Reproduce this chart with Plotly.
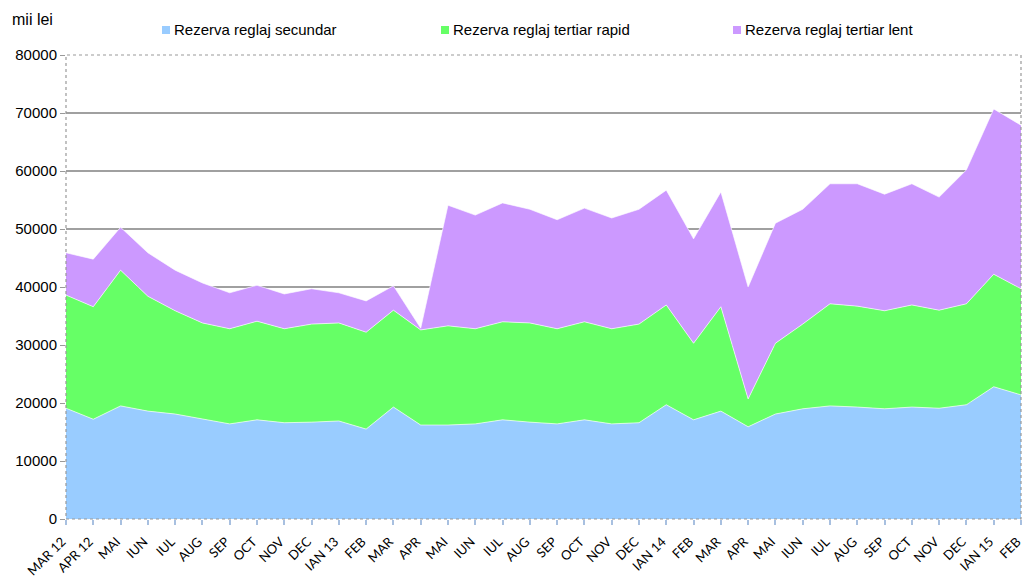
import plotly.graph_objects as go

# Month labels, March 2012 - February 2015
luni = ["MAR 12", "APR 12", "MAI", "IUN", "IUL", "AUG", "SEP", "OCT", "NOV", "DEC",
        "IAN 13", "FEB", "MAR", "APR", "MAI", "IUN", "IUL", "AUG", "SEP", "OCT", "NOV", "DEC",
        "IAN 14", "FEB", "MAR", "APR", "MAI", "IUN", "IUL", "AUG", "SEP", "OCT", "NOV", "DEC",
        "IAN 15", "FEB"]

# Values in thousand lei
rezerva_secundar = [19100, 17200, 19500, 18600, 18100, 17200, 16400, 17100, 16600, 16700,
                    16900, 15500, 19300, 16200, 16200, 16400, 17100, 16700, 16400, 17100,
                    16400, 16600, 19700, 17100, 18600, 15900, 18100, 19000, 19500, 19300,
                    19000, 19300, 19100, 19700, 22800, 21400]

rezerva_tertiar_rapid = [19500, 19400, 23400, 19800, 17800, 16600, 16400, 17000, 16200, 16900,
                         16900, 16700, 16700, 16400, 17100, 16400, 16900, 17100, 16400, 16900,
                         16400, 17000, 17200, 13200, 18000, 4800, 12200, 14600, 17600, 17400,
                         16900, 17600, 16900, 17400, 19400, 18300]

rezerva_tertiar_lent = [7300, 8200, 7400, 7500, 7000, 6900, 6200, 6200, 6000, 6100,
                        5200, 5400, 4200, 300, 20800, 19600, 20500, 19600, 18800, 19600,
                        19100, 19800, 19800, 18000, 19800, 19300, 20700, 19800, 20700, 21100,
                        20100, 20900, 19500, 23100, 28500, 28200]

serii = [
    ("Rezerva reglaj secundar", rezerva_secundar, "#99CCFF"),
    ("Rezerva reglaj tertiar rapid", rezerva_tertiar_rapid, "#66FF66"),
    ("Rezerva reglaj tertiar lent", rezerva_tertiar_lent, "#CC99FF"),
]

idx = list(range(len(luni)))

fig = go.Figure()
for nume, valori, culoare in serii:
    fig.add_trace(go.Scatter(
        x=idx, y=valori, name=nume, mode="lines",
        stackgroup="rezerve",
        line=dict(width=0.8, color="rgba(255,255,255,0.8)"),
        fillcolor=culoare,
        showlegend=False,
    ))

W, H = 1023, 578
L, R, T, B = 66, 2, 55, 59
pw, ph = W - L - R, H - T - B


def px(xp):
    return (xp - L) / pw


def py(yp):
    return (H - B - yp) / ph


font = "Liberation Sans, Arial, sans-serif"

# Legend row above the plot
legend_pos = [162, 441, 733]
annotations = []
shapes = []
for (nume, _, culoare), x0 in zip(serii, legend_pos):
    shapes.append(dict(type="rect", xref="paper", yref="paper",
                       x0=px(x0), x1=px(x0 + 8), y0=py(34), y1=py(26),
                       fillcolor=culoare, line=dict(width=0)))
    annotations.append(dict(text=nume, xref="paper", yref="paper",
                            x=px(x0 + 10), y=py(30), xanchor="left", yanchor="middle",
                            showarrow=False, font=dict(family=font, size=15, color="#000")))

annotations.append(dict(text="mii lei", xref="paper", yref="paper",
                        x=px(10), y=py(20), xanchor="left", yanchor="middle",
                        showarrow=False, font=dict(family=font, size=16, color="#000")))

# Dotted frame around the plot area
shapes.append(dict(type="rect", xref="paper", yref="paper", x0=0, x1=1, y0=0, y1=1,
                   line=dict(color="#999999", width=1.2, dash="dot"), layer="above"))

fig.update_layout(
    width=W, height=H,
    margin=dict(l=L, r=R, t=T, b=B, autoexpand=False),
    paper_bgcolor="white", plot_bgcolor="white",
    showlegend=False,
    annotations=annotations,
    shapes=shapes,
    xaxis=dict(
        range=[0, len(luni) - 1],
        tickmode="array", tickvals=idx, ticktext=luni,
        tickangle=-45,
        ticks="outside", ticklen=5, tickcolor="#A8C0E0", tickwidth=1.5,
        ticklabelstandoff=4,
        ticklabelshift=-4,
        ticklabeloverflow="allow",
        automargin=False,
        showgrid=False, zeroline=False,
        tickfont=dict(family="Lato, sans-serif", size=13, color="#000"),
    ),
    yaxis=dict(
        range=[0, 80000],
        tickmode="linear", tick0=0, dtick=10000, tickformat="d",
        ticks="outside", ticklen=5, tickcolor="#999999",
        automargin=False,
        showgrid=True, gridcolor="#A0A0A0", gridwidth=1.5,
        zeroline=False,
        tickfont=dict(family=font, size=15, color="#000"),
        layer="below traces",
    ),
)

fig.write_html("out.html")
